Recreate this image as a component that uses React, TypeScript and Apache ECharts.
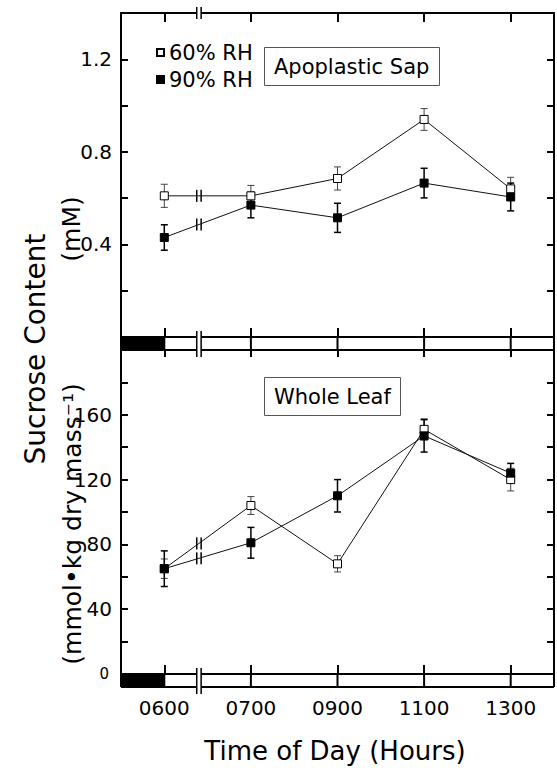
import React, { useEffect, useRef } from 'react';
import * as echarts from 'echarts';

const hours = ['0600', '0700', '0900', '1100', '1300'];
const sap60 = [0.61, 0.61, 0.685, 0.94, 0.64];
const sap60Err = [0.05, 0.045, 0.05, 0.047, 0.05];
const sap90 = [0.43, 0.57, 0.515, 0.665, 0.605];
const sap90Err = [0.055, 0.055, 0.063, 0.064, 0.06];
const leaf60 = [65, 104, 68, 151, 120];
const leaf60Err = [6, 5.5, 5, 6.5, 7];
const leaf90 = [65, 81, 110, 147, 124];
const leaf90Err = [11, 9.5, 10, 10, 6];
const sapTicks = [0.4, 0.8, 1.2];
const leafTicks = [0, 40, 80, 120, 160];

const FONT = 'DejaVu Sans';
const BREAK_T = 0.4;

function errorBars(values: number[], errors: number[], xi: number, yi: number, color: string, width: number) {
  return {
    type: 'custom', xAxisIndex: xi, yAxisIndex: yi, z: 3, clip: false, silent: true,
    data: values.map((v, i) => [i, v, errors[i]]),
    renderItem: (params: any, api: any) => {
      const i = api.value(0), v = api.value(1), e = api.value(2);
      const hi = api.coord([i, v + e]);
      const lo = api.coord([i, v - e]);
      const cap = 3.5;
      const style = { stroke: color, lineWidth: width };
      const children: any[] = [
        { type: 'line', shape: { x1: hi[0], y1: hi[1], x2: lo[0], y2: lo[1] }, style },
        { type: 'line', shape: { x1: hi[0] - cap, y1: hi[1], x2: hi[0] + cap, y2: hi[1] }, style },
        { type: 'line', shape: { x1: lo[0] - cap, y1: lo[1], x2: lo[0] + cap, y2: lo[1] }, style },
      ];
      if (params.dataIndex === 0) {
        const p0 = api.coord([0, values[0]]);
        const p1 = api.coord([1, values[1]]);
        const x = p0[0] + (p1[0] - p0[0]) * BREAK_T;
        const y = p0[1] + (p1[1] - p0[1]) * BREAK_T;
        const s = { stroke: '#000', lineWidth: 1.5 };
        children.push({ type: 'line', shape: { x1: x - 2.2, y1: y - 6, x2: x - 2.2, y2: y + 6 }, style: s });
        children.push({ type: 'line', shape: { x1: x + 2.2, y1: y - 6, x2: x + 2.2, y2: y + 6 }, style: s });
      }
      return { type: 'group', children };
    },
  };
}

function timeBar(xi: number, yi: number, topBreak: boolean) {
  return {
    type: 'custom', xAxisIndex: xi, yAxisIndex: yi, z: 4, clip: false, silent: true,
    data: [[0, 0]],
    renderItem: (params: any, api: any) => {
      const cs = params.coordSys;
      const y0 = cs.y + cs.height;
      const h = 13;
      const y1 = y0 + h;
      const L = cs.x, R = cs.x + cs.width;
      const xs = hours.map((_, i) => api.coord([i, 0])[0]);
      const xb = xs[0] + (xs[1] - xs[0]) * BREAK_T;
      const k = { stroke: '#000', lineWidth: 2 };
      const children: any[] = [
        { type: 'rect', shape: { x: L, y: y0, width: xs[0] - L, height: h }, style: { fill: '#000' } },
        { type: 'line', shape: { x1: L, y1: y0, x2: R, y2: y0 }, style: k },
        { type: 'line', shape: { x1: L, y1: y1, x2: R, y2: y1 }, style: k },
        { type: 'line', shape: { x1: L, y1: y0, x2: L, y2: y1 }, style: k },
        { type: 'line', shape: { x1: R, y1: y0, x2: R, y2: y1 }, style: k },
      ];
      xs.forEach((x) => {
        children.push({ type: 'line', shape: { x1: x, y1: y0, x2: x, y2: y1 }, style: k });
      });
      const addBreak = (ya: number, yb: number) => {
        children.push({ type: 'rect', shape: { x: xb - 2.2, y: ya + 3, width: 4.4, height: yb - ya - 6 }, style: { fill: '#fff' } });
        const s = { stroke: '#000', lineWidth: 1.5 };
        children.push({ type: 'line', shape: { x1: xb - 2.2, y1: ya, x2: xb - 2.2, y2: yb }, style: s });
        children.push({ type: 'line', shape: { x1: xb + 2.2, y1: ya, x2: xb + 2.2, y2: yb }, style: s });
      };
      addBreak(y0 - 6, y1 + 7);
      if (topBreak) addBreak(cs.y - 6, cs.y + 6);
      return { type: 'group', children };
    },
  };
}

function xAxes(gridIndex: number, position: string, tickLen: number, labels: boolean) {
  return {
    type: 'category', gridIndex, position, data: hours, boundaryGap: true,
    axisLine: { show: true, onZero: false, lineStyle: { color: '#000', width: 2 } },
    axisTick: { show: true, inside: true, alignWithLabel: true, length: tickLen, lineStyle: { color: '#000', width: 2 } },
    axisLabel: { show: labels, margin: 24, color: '#000', fontFamily: FONT, fontSize: 20 },
    splitLine: { show: false },
  };
}

function yAxis(gridIndex: number, position: string, min: number, max: number, interval: number, labels: boolean, fmt: any) {
  return {
    type: 'value', gridIndex, position, min, max, interval,
    axisLine: { show: true, lineStyle: { color: '#000', width: 2 } },
    axisTick: { show: true, inside: true, length: 7, lineStyle: { color: '#000', width: 2 } },
    axisLabel: {
      show: labels, margin: 9, color: '#000', fontFamily: FONT, fontSize: 20, formatter: fmt,
      rich: { s: { fontFamily: FONT, fontSize: 15, color: '#000', padding: [0, 3, 0, 0] } },
    },
    splitLine: { show: false },
  };
}

export default function App() {
  const ref = useRef<HTMLDivElement>(null);
  useEffect(() => {
    const chart = echarts.init(ref.current!, null, { renderer: 'svg' });
    const sapFmt = (v: number) => (sapTicks.some((t) => Math.abs(t - v) < 1e-6) ? v.toFixed(1) : '');
    const leafFmt = (v: number) => {
      const r = Math.round(v);
      if (!leafTicks.includes(r)) return '';
      return r === 0 ? '{s|0}' : String(r);
    };
    const openStyle = { color: '#fff', borderColor: '#000', borderWidth: 1 };
    const fillStyle = { color: '#000', borderColor: '#000', borderWidth: 1 };
    const line = (name: string, data: number[], xi: number, yi: number, style: any) => ({
      type: 'line', name, data, xAxisIndex: xi, yAxisIndex: yi, z: 5,
      symbol: 'rect', symbolSize: 8, showSymbol: true,
      lineStyle: { color: '#111', width: 1 }, itemStyle: style,
    });
    chart.setOption({
      animation: false,
      backgroundColor: '#fff',
      textStyle: { fontFamily: FONT },
      grid: [
        { left: 121, top: 13, width: 433, height: 324 },
        { left: 121, top: 350, width: 433, height: 324 },
      ],
      xAxis: [
        xAxes(0, 'bottom', 9, false),
        xAxes(0, 'top', 9, false),
        xAxes(1, 'bottom', 9, true),
        xAxes(1, 'top', 7, false),
      ],
      yAxis: [
        yAxis(0, 'left', 0, 1.4, 0.2, true, sapFmt),
        yAxis(0, 'right', 0, 1.4, 0.2, false, sapFmt),
        yAxis(1, 'left', 0, 200, 20, true, leafFmt),
        yAxis(1, 'right', 0, 200, 20, false, leafFmt),
      ],
      legend: {
        data: ['60% RH', '90% RH'], orient: 'vertical', left: 151, top: 37,
        itemWidth: 7, itemHeight: 7, itemGap: 6, icon: 'rect',
        textStyle: { fontFamily: FONT, fontSize: 21, color: '#000' },
      },
      title: [
        {
          text: 'Apoplastic Sap', left: 264, top: 47, padding: [9, 10],
          borderColor: '#555', borderWidth: 1,
          textStyle: { fontFamily: FONT, fontSize: 21, fontWeight: 'normal', color: '#000' },
        },
        {
          text: 'Whole Leaf', left: 264, top: 377, padding: [9, 10],
          borderColor: '#555', borderWidth: 1,
          textStyle: { fontFamily: FONT, fontSize: 21, fontWeight: 'normal', color: '#000' },
        },
      ],
      graphic: [
        {
          type: 'text', x: 35, y: 349, rotation: Math.PI / 2,
          style: { text: 'Sucrose Content', font: `28px "${FONT}"`, fill: '#000', align: 'center', verticalAlign: 'middle' },
        },
        {
          type: 'text', x: 71, y: 229, rotation: Math.PI / 2,
          style: { text: '(mM)', font: `25px "${FONT}"`, fill: '#000', align: 'center', verticalAlign: 'middle' },
        },
        {
          type: 'text', x: 72, y: 524, rotation: Math.PI / 2,
          style: { text: '(mmol•kg dry mass⁻¹)', font: `25px "${FONT}"`, fill: '#000', align: 'center', verticalAlign: 'middle' },
        },
        {
          type: 'text', x: 335, y: 751,
          style: { text: 'Time of Day (Hours)', font: `26px "${FONT}"`, fill: '#000', align: 'center', verticalAlign: 'middle' },
        },
      ],
      series: [
        timeBar(0, 0, true),
        timeBar(2, 2, false),
        errorBars(sap60, sap60Err, 0, 0, '#444', 1),
        errorBars(sap90, sap90Err, 0, 0, '#000', 1.5),
        errorBars(leaf60, leaf60Err, 2, 2, '#444', 1),
        errorBars(leaf90, leaf90Err, 2, 2, '#000', 1.5),
        line('60% RH', sap60, 0, 0, openStyle),
        line('90% RH', sap90, 0, 0, fillStyle),
        line('Leaf 60% RH', leaf60, 2, 2, openStyle),
        line('Leaf 90% RH', leaf90, 2, 2, fillStyle),
      ],
    });
    return () => chart.dispose();
  }, []);
  return <div ref={ref} style={{ width: 557, height: 768, position: 'absolute', left: 0, top: 0 }} />;
}
